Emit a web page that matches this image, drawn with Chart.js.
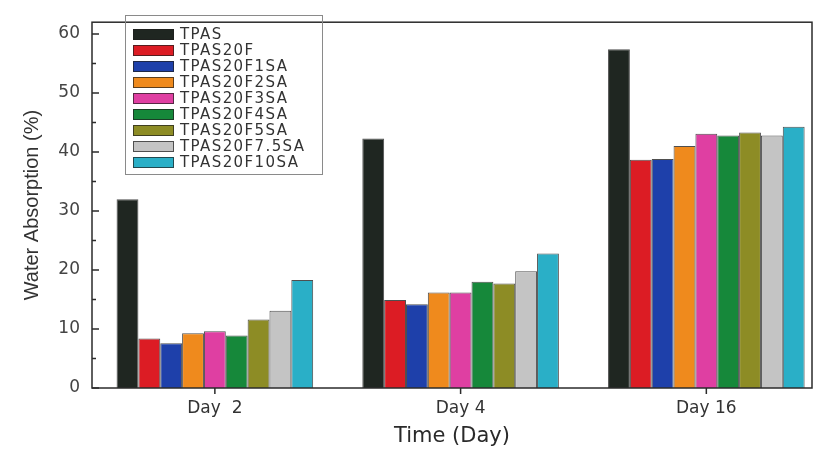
<!DOCTYPE html>
<html>
<head>
<meta charset="utf-8">
<script src="https://cdn.jsdelivr.net/npm/chart.js@4.4.1/dist/chart.umd.min.js"></script>
<style>
  html, body { margin: 0; padding: 0; background: #fff; }
  #wrap { position: relative; width: 821px; height: 449px; }
  #legend {
    position: absolute; left: 125px; top: 15px; width: 198px; height: 160px;
    border: 1px solid #8a8a8a; box-sizing: border-box; padding: 10px 0 0 7px;
    font-family: 'DejaVu Sans', sans-serif; font-size: 15px; color: #333;
  }
  .row { display: flex; align-items: center; height: 16px; }
  .sw { width: 41px; height: 11px; box-sizing: border-box; border: 1px solid rgba(30,30,30,0.7); margin-right: 6px; }
  .lbl { letter-spacing: 1.4px; line-height: 16px; }
</style>
</head>
<body>
<div id="wrap">
  <canvas id="bar-chart" width="821" height="449"></canvas>
  <div id="legend"></div>
</div>
<script>
// ---------------- data ----------------
const days = ['Day  2', 'Day 4', 'Day 16']
const samples = ['TPAS', 'TPAS20F', 'TPAS20F1SA', 'TPAS20F2SA', 'TPAS20F3SA', 'TPAS20F4SA', 'TPAS20F5SA', 'TPAS20F7.5SA', 'TPAS20F10SA']

const tpas = [32.0, 42.3, 57.4]
const tpas20f = [8.4, 14.9, 38.7]
const tpas20f1sa = [7.6, 14.2, 38.8]
const tpas20f2sa = [9.3, 16.2, 41.0]
const tpas20f3sa = [9.6, 16.2, 43.1]
const tpas20f4sa = [8.9, 18.0, 42.8]
const tpas20f5sa = [11.6, 17.7, 43.3]
const tpas20f75sa = [13.1, 19.8, 42.8]
const tpas20f10sa = [18.3, 22.8, 44.3]

const yTicks = [0, 10, 20, 30, 40, 50, 60]

// ---------------- styling ----------------
const colors = ['#1f2621', '#dc1c24', '#1e40aa', '#ef8a1d', '#df3fa2', '#16883a', '#8d8c25', '#c4c4c4', '#2aafc7']
const values = [tpas, tpas20f, tpas20f1sa, tpas20f2sa, tpas20f3sa, tpas20f4sa, tpas20f5sa, tpas20f75sa, tpas20f10sa]

// box around the plot + Origin style inward ticks
const frame = {
  id: 'frame',
  afterDatasetsDraw(chart) {
    const { ctx, chartArea: a, scales: { x, y } } = chart
    ctx.save()
    ctx.strokeStyle = '#2b2b2b'
    ctx.lineWidth = 1.5
    ctx.strokeRect(a.left, a.top, a.right - a.left, a.bottom - a.top)
    ctx.beginPath()
    for (let v = 0; v <= 60; v += 5) {
      const py = y.getPixelForValue(v)
      const len = v % 10 === 0 ? 7 : 4
      ctx.moveTo(a.left, py)
      ctx.lineTo(a.left + len, py)
    }
    x.ticks.forEach((t) => {
      const px = x.getPixelForValue(t.value)
      ctx.moveTo(px, a.bottom)
      ctx.lineTo(px, a.bottom + 6)
    })
    ctx.stroke()
    ctx.restore()
  },
}

const plotData = () => {
  const canvas = document.getElementById('bar-chart')

  const datasets = samples.map((name, i) => ({
    label: name,
    data: values[i].map((v, d) => ({ x: d, y: v })),
    backgroundColor: colors[i],
    borderColor: 'rgba(35,35,35,0.8)',
    borderWidth: 1,
    categoryPercentage: 0.8,
    barPercentage: 1,
  }))

  new Chart(canvas, {
    type: 'bar',
    data: { datasets },
    plugins: [frame],
    options: {
      responsive: false,
      animation: false,
      devicePixelRatio: 1,
      layout: { padding: { top: 12, right: 9, left: 0, bottom: 0 } },
      plugins: {
        legend: { display: false },
        tooltip: { enabled: false },
      },
      scales: {
        x: {
          type: 'linear',
          min: -0.5,
          max: 2.43,
          bounds: 'data',
          offset: false,
          grid: { display: false, drawTicks: false, offset: false },
          border: { display: false },
          afterBuildTicks: (s) => { s.ticks = days.map((d, i) => ({ value: i })) },
          afterFit: (s) => { s.height = 61 },
          ticks: {
            callback: (v) => days[v],
            padding: 10,
            color: '#333',
            autoSkip: false,
            maxRotation: 0,
            font: { family: 'DejaVu Sans', size: 17 },
          },
          title: {
            display: true,
            text: 'Time (Day)',
            color: '#2a2a2a',
            padding: 0,
            font: { family: 'DejaVu Sans', size: 21 },
          },
        },
        y: {
          min: 0,
          max: 62,
          bounds: 'data',
          grid: { display: false, drawTicks: false },
          border: { display: false },
          afterBuildTicks: (s) => { s.ticks = yTicks.map((v) => ({ value: v })) },
          afterFit: (s) => { s.width = 92 },
          ticks: {
            padding: 12,
            color: '#444',
            font: { family: 'DejaVu Sans', size: 17 },
          },
          title: {
            display: true,
            text: 'Water Absorption (%)',
            color: '#333',
            padding: { top: 20, bottom: 0 },
            font: { family: 'Liberation Sans', size: 20 },
          },
        },
      },
    },
  })
}

const buildLegend = () => {
  const box = document.getElementById('legend')
  samples.forEach((name, i) => {
    const row = document.createElement('div')
    row.className = 'row'
    const sw = document.createElement('span')
    sw.className = 'sw'
    sw.style.background = colors[i]
    const lbl = document.createElement('span')
    lbl.className = 'lbl'
    lbl.textContent = name
    row.appendChild(sw)
    row.appendChild(lbl)
    box.appendChild(row)
  })
}

plotData()
buildLegend()
</script>
</body>
</html>
